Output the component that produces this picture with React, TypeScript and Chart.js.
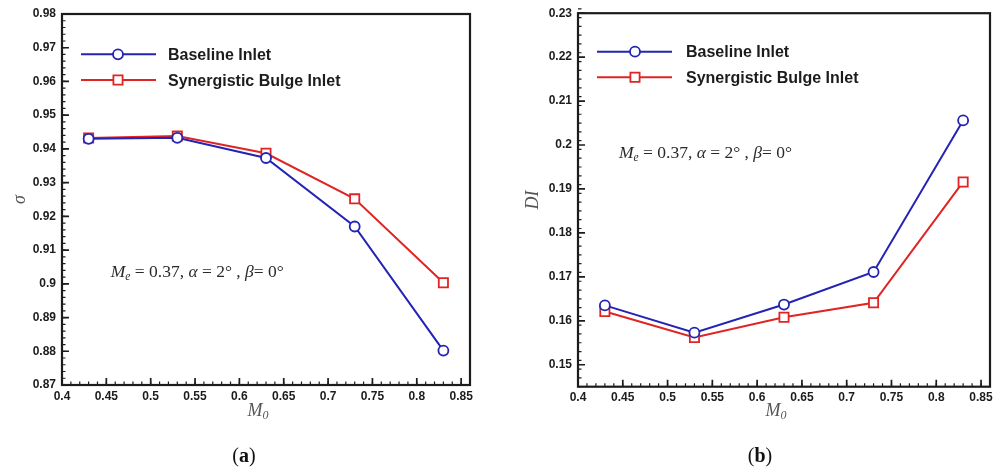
import React, { useEffect, useRef } from "react";
import { Chart, registerables } from "chart.js";

Chart.register(...registerables);

// ---------- data ----------
const machNumbers = [0.43, 0.53, 0.63, 0.73, 0.83];
const sigmaBaseline = [0.943, 0.9433, 0.9373, 0.917, 0.8802];
const sigmaBulge = [0.9432, 0.9438, 0.9387, 0.9252, 0.9003];
const diBaseline = [0.1635, 0.1573, 0.1637, 0.1711, 0.2056];
const diBulge = [0.1621, 0.1562, 0.1608, 0.1641, 0.1916];
const seriesNames = ["Baseline Inlet", "Synergistic Bulge Inlet"];
const xTickValues = [0.4, 0.45, 0.5, 0.55, 0.6, 0.65, 0.7, 0.75, 0.8, 0.85];
const sigmaTickValues = [0.87, 0.88, 0.89, 0.9, 0.91, 0.92, 0.93, 0.94, 0.95, 0.96, 0.97, 0.98];
const diTickValues = [0.15, 0.16, 0.17, 0.18, 0.19, 0.2, 0.21, 0.22, 0.23];
const conditionText: [string, string][] = [
  ["M", "italic"],
  ["e", "sub"],
  [" = 0.37, ", "normal"],
  ["\u03b1", "italic"],
  [" = 2\u00b0 , ", "normal"],
  ["\u03b2", "italic"],
  ["= 0\u00b0", "normal"],
];

const BLUE = "#2323b4";
const RED = "#e02424";
const INK = "#1c1c1c";

function fmt(v: number) {
  return String(Number(Number(v).toFixed(3)));
}

const decorPlugin = {
  id: "decor",
  afterDraw(chart: any, _args: any, opts: any) {
    const { ctx, chartArea: a, scales } = chart;
    const xs = scales.x;
    const ys = scales.y;
    ctx.save();
    // ticks (inside)
    ctx.strokeStyle = INK;
    ctx.lineWidth = 1.2;
    ctx.beginPath();
    const nx = Math.round((xs.max - xs.min) / opts.xMinor);
    for (let i = 0; i <= nx; i++) {
      const px = xs.getPixelForValue(xs.min + i * opts.xMinor);
      ctx.moveTo(px, a.bottom);
      ctx.lineTo(px, a.bottom - 3.5);
    }
    const ny = Math.round((ys.max - ys.min) / opts.yMinor);
    for (let i = 0; i <= ny; i++) {
      const py = ys.getPixelForValue(ys.min + i * opts.yMinor);
      ctx.moveTo(a.left, py);
      ctx.lineTo(a.left + 3.5, py);
    }
    ctx.stroke();
    ctx.lineWidth = 1.7;
    ctx.beginPath();
    xs.ticks.forEach((t: any) => {
      const px = xs.getPixelForValue(t.value);
      ctx.moveTo(px, a.bottom);
      ctx.lineTo(px, a.bottom - 7);
    });
    ys.ticks.forEach((t: any) => {
      const py = ys.getPixelForValue(t.value);
      ctx.moveTo(a.left, py);
      ctx.lineTo(a.left + 7, py);
    });
    ctx.stroke();
    // frame
    ctx.lineWidth = 2.2;
    ctx.strokeRect(a.left, a.top, a.right - a.left, a.bottom - a.top);

    // legend
    const lg = opts.legend;
    chart.data.datasets.forEach((ds: any, i: number) => {
      const y = lg.y0 + i * lg.dy;
      ctx.strokeStyle = ds.borderColor;
      ctx.lineWidth = 2;
      ctx.beginPath();
      ctx.moveTo(lg.x0, y);
      ctx.lineTo(lg.x1, y);
      ctx.stroke();
      ctx.fillStyle = "#ffffff";
      ctx.lineWidth = 1.8;
      ctx.beginPath();
      if (ds.pointStyle === "circle") {
        ctx.arc(lg.mx, y, 5, 0, Math.PI * 2);
      } else {
        ctx.rect(lg.mx - 4.6, y - 4.6, 9.2, 9.2);
      }
      ctx.fill();
      ctx.stroke();
      ctx.fillStyle = INK;
      ctx.font = 'bold 16px "Liberation Sans", Arial, sans-serif';
      ctx.textAlign = "left";
      ctx.textBaseline = "alphabetic";
      ctx.fillText(ds.label, lg.tx, y + 5.7);
    });

    // condition annotation
    const an = opts.note;
    let cx = an.x;
    ctx.fillStyle = "#2a2a2a";
    ctx.textAlign = "left";
    ctx.textBaseline = "alphabetic";
    conditionText.forEach(([txt, style]) => {
      let dy = 0;
      if (style === "italic") ctx.font = 'italic 17.5px "Liberation Serif", serif';
      else if (style === "sub") {
        ctx.font = 'italic 11.5px "Liberation Serif", serif';
        dy = 3;
      } else ctx.font = '17.5px "Liberation Serif", serif';
      ctx.fillText(txt, cx, an.y + 6 + dy);
      cx += ctx.measureText(txt).width;
    });

    // x title M0
    ctx.fillStyle = "#555555";
    ctx.font = 'italic 18px "Liberation Serif", serif';
    const mW = ctx.measureText("M").width;
    ctx.font = 'italic 12px "Liberation Serif", serif';
    const zW = ctx.measureText("0").width;
    const gx = (a.left + a.right) / 2 + opts.xTitleShift - (mW + zW) / 2;
    ctx.font = 'italic 18px "Liberation Serif", serif';
    ctx.fillText("M", gx, opts.xTitleY + 6);
    ctx.font = 'italic 12px "Liberation Serif", serif';
    ctx.fillText("0", gx + mW, opts.xTitleY + 9);

    // panel label
    ctx.fillStyle = "#111111";
    ctx.font = '20px "Liberation Serif", serif';
    const pW = ctx.measureText("(").width;
    const cW = ctx.measureText(")").width;
    ctx.font = 'bold 20px "Liberation Serif", serif';
    const lW = ctx.measureText(opts.panel).width;
    const total = pW + lW + cW;
    let lx = opts.panelX - total / 2;
    ctx.font = '20px "Liberation Serif", serif';
    ctx.fillText("(", lx, opts.panelY + 7);
    ctx.font = 'bold 20px "Liberation Serif", serif';
    ctx.fillText(opts.panel, lx + pW, opts.panelY + 7);
    ctx.font = '20px "Liberation Serif", serif';
    ctx.fillText(")", lx + pW + lW, opts.panelY + 7);
    ctx.restore();
  },
};

type PanelProps = {
  baseline: number[];
  bulge: number[];
  yTicks: number[];
  yMin: number;
  yMax: number;
  yTitle: string;
  yTitlePad: number;
  top: number;
  right: number;
  yWidth: number;
  xHeight: number;
  legend: any;
  note: any;
  panel: string;
  panelX: number;
  left: number;
  width: number;
};

function Panel(p: PanelProps) {
  const ref = useRef<HTMLCanvasElement | null>(null);
  useEffect(() => {
    if (!ref.current) return;
    const tickFont = { family: '"Liberation Sans", Arial, sans-serif', weight: "bold" as const, size: 12 };
    const chart = new Chart(ref.current, {
      type: "line",
      data: {
        datasets: [
          {
            label: seriesNames[0],
            data: machNumbers.map((m, i) => ({ x: m, y: p.baseline[i] })),
            borderColor: BLUE,
            backgroundColor: "#ffffff",
            borderWidth: 2,
            pointStyle: "circle",
            pointRadius: 5,
            pointBorderWidth: 1.8,
            pointBackgroundColor: "#ffffff",
            pointBorderColor: BLUE,
            order: 0,
          },
          {
            label: seriesNames[1],
            data: machNumbers.map((m, i) => ({ x: m, y: p.bulge[i] })),
            borderColor: RED,
            backgroundColor: "#ffffff",
            borderWidth: 2,
            pointStyle: "rect",
            pointRadius: 6.5,
            pointBorderWidth: 1.8,
            pointBackgroundColor: "#ffffff",
            pointBorderColor: RED,
            order: 1,
          },
        ],
      },
      options: {
        responsive: false,
        animation: false,
        layout: { padding: { left: 0, top: p.top, right: p.right, bottom: 0 } },
        plugins: {
          legend: { display: false },
          tooltip: { enabled: false },
          decor: {
            xMinor: 0.01,
            yMinor: 0.002,
            legend: p.legend,
            note: p.note,
            xTitleShift: -8,
            xTitleY: 410,
            panel: p.panel,
            panelX: p.panelX,
            panelY: 455,
          },
        } as any,
        scales: {
          x: {
            type: "linear",
            min: 0.4,
            max: 0.86,
            grid: { display: false, drawTicks: false },
            border: { display: false },
            ticks: {
              font: tickFont,
              color: INK,
              padding: 4,
              maxRotation: 0,
              autoSkip: false,
              callback: (v: any) => fmt(v),
            },
            afterBuildTicks: (s: any) => {
              s.ticks = xTickValues.map((v) => ({ value: v }));
            },
            afterFit: (s: any) => {
              s.height = p.xHeight;
            },
          },
          y: {
            type: "linear",
            min: p.yMin,
            max: p.yMax,
            grid: { display: false, drawTicks: false },
            border: { display: false },
            title: {
              display: true,
              text: p.yTitle,
              color: "#555555",
              font: { family: '"Liberation Serif", serif', style: "italic", size: 18 },
              padding: { top: p.yTitlePad, bottom: 0 },
            },
            ticks: {
              font: tickFont,
              color: INK,
              padding: 6,
              autoSkip: false,
              callback: (v: any) => fmt(v),
            },
            afterBuildTicks: (s: any) => {
              s.ticks = p.yTicks.map((v) => ({ value: v }));
            },
            afterFit: (s: any) => {
              s.width = p.yWidth;
            },
          },
        },
      },
      plugins: [decorPlugin],
    } as any);
    return () => chart.destroy();
  }, []);
  return (
    <canvas
      ref={ref}
      width={p.width}
      height={470}
      style={{ position: "absolute", left: p.left, top: 0, width: p.width, height: 470 }}
    />
  );
}

export default function App() {
  return (
    <div style={{ position: "absolute", left: 0, top: 0, width: 999, height: 470, background: "#ffffff", overflow: "hidden" }}>
      <Panel
        baseline={sigmaBaseline}
        bulge={sigmaBulge}
        yTicks={sigmaTickValues}
        yMin={0.87}
        yMax={0.98}
        yTitle={"\u03c3"}
        yTitlePad={9}
        top={14}
        right={30}
        yWidth={62}
        xHeight={85}
        legend={{ x0: 81, x1: 156, mx: 118, y0: 54.3, dy: 25.7, tx: 168 }}
        note={{ x: 110.7, y: 271 }}
        panel="a"
        panelX={244}
        left={0}
        width={500}
      />
      <Panel
        baseline={diBaseline}
        bulge={diBulge}
        yTicks={diTickValues}
        yMin={0.145}
        yMax={0.23}
        yTitle="DI"
        yTitlePad={22}
        top={11.5}
        right={9}
        yWidth={78}
        xHeight={83.3}
        legend={{ x0: 97, x1: 172, mx: 135, y0: 51.7, dy: 25.6, tx: 186 }}
        note={{ x: 119, y: 152 }}
        panel="b"
        panelX={260}
        left={500}
        width={499}
      />
    </div>
  );
}
